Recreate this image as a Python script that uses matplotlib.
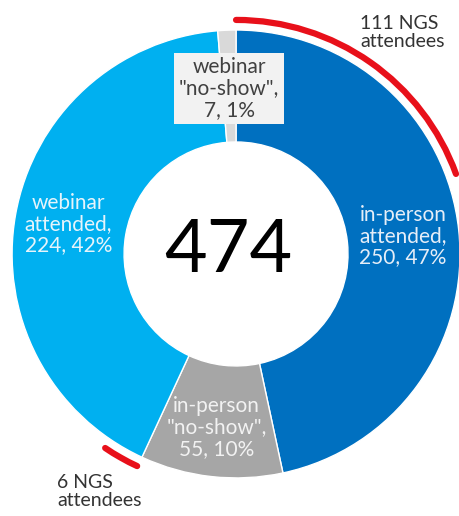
import numpy as np
import matplotlib.pyplot as plt
from matplotlib.patches import Arc

plt.rcParams['font.family'] = ['Lato', 'DejaVu Sans']

# slices, clockwise from 12 o'clock
labels = ['in-person\nattended', 'in-person\n"no-show"', 'webinar\nattended', 'webinar\n"no-show"']
counts = [250, 55, 224, 7]
pcts = [47, 10, 42, 1]
colors = ['#0070c0', '#a6a6a6', '#00b0f0', '#d9d9d9']
text_colors = ['#e6eef8', '#f2f2f2', '#e6f4fb', '#404040']
center_total = 474

# hand-drawn NGS marks: (start angle, end angle) clockwise from top, degrees
ngs_arcs = [(0, 70), (205, 214)]
ngs_notes = ['111 NGS\nattendees', '6 NGS\nattendees']

fig = plt.figure(figsize=(4.6, 5.16), dpi=100)
ax = fig.add_axes([0, 0, 1, 1])

wedges, _ = ax.pie(counts, colors=colors, startangle=90, counterclock=False,
                   radius=1.0, wedgeprops=dict(width=0.5, edgecolor='white', linewidth=1))

for i, w in enumerate(wedges):
    mid = np.deg2rad((w.theta1 + w.theta2) / 2)
    r = [0.75, 0.78, 0.76, 0.74][i]
    x, y = r * np.cos(mid), r * np.sin(mid)
    txt = f'{labels[i]},\n{counts[i]}, {pcts[i]}%'
    kw = {}
    if i == 3:
        kw['bbox'] = dict(boxstyle='square,pad=0.22', facecolor='#f2f2f2', edgecolor='none')
    ax.text(x, y, txt, ha='center', va='center', fontsize=15, color=text_colors[i],
            linespacing=1.08, **kw)

ax.text(-0.036, 0.01, str(center_total), ha='center', va='center', fontsize=53, color='black')

# red marks
for a0, a1 in ngs_arcs:
    ax.add_patch(Arc((0, 0), 2.09, 2.09, theta1=90 - a1, theta2=90 - a0,
                     color='#e8101a', linewidth=4.5, capstyle='round'))

ax.text(0.554, 0.99, ngs_notes[0], ha='left', va='center', fontsize=14, color='#333333',
        linespacing=1.05)
ax.text(-0.80, -1.06, ngs_notes[1], ha='left', va='center', fontsize=14, color='#333333',
        linespacing=1.05)

ax.set_xlim(-1.054, 1.0)
ax.set_ylim(-1.170, 1.134)
ax.set_aspect('auto')
ax.axis('off')

fig.savefig('out.png', dpi=100, facecolor='white')
